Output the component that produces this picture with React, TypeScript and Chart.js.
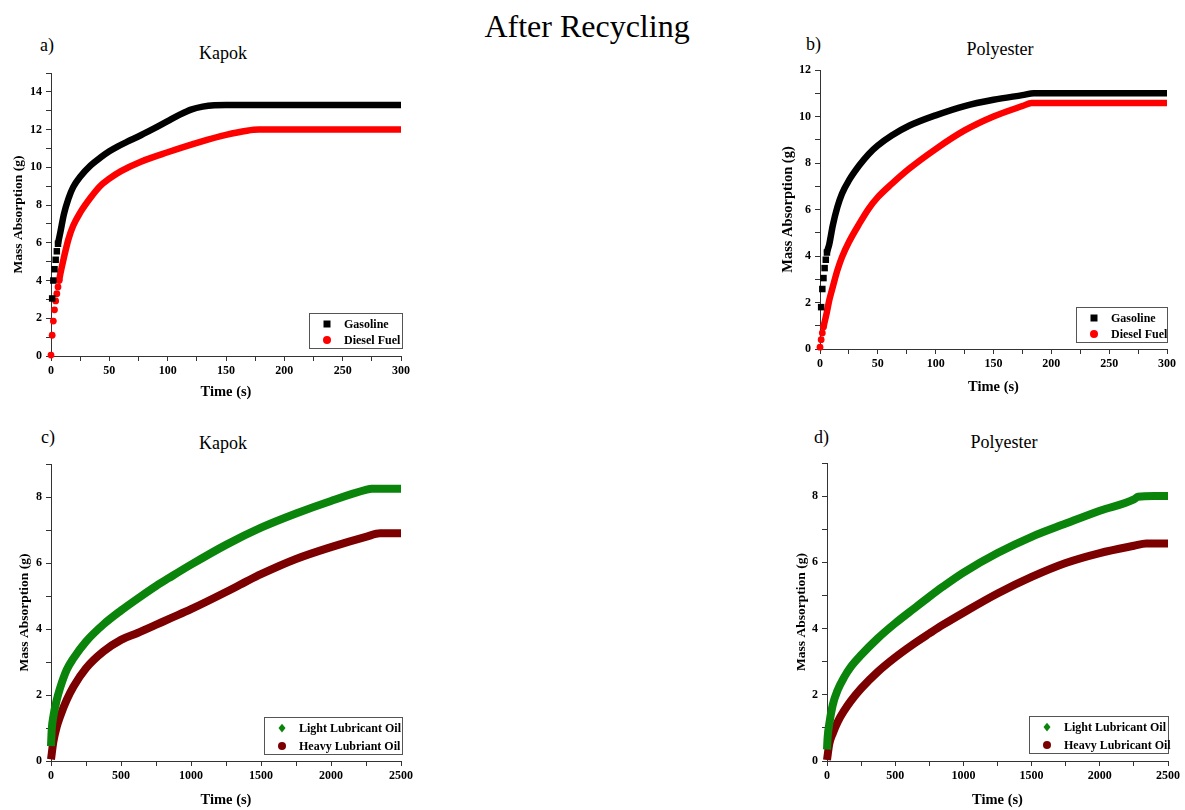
import React, { useEffect, useRef } from 'react';
import { Chart, registerables } from 'chart.js';

Chart.register(...registerables);

const FONT = "'Times New Roman', 'Liberation Serif', serif";

// ---------- DATA ----------
const MAIN_TITLE = 'After Recycling';
const PANEL_LETTERS = ['a)', 'b)', 'c)', 'd)'];
const PANEL_TITLES = ['Kapok', 'Polyester', 'Kapok', 'Polyester'];
const X_TITLE = 'Time (s)';
const Y_TITLE = 'Mass Absorption (g)';
const FUEL_LABELS = ['Gasoline', 'Diesel Fuel'];
const OIL_LABELS_KAPOK = ['Light Lubricant Oil', 'Heavy Lubriant Oil'];
const OIL_LABELS_POLY = ['Light Lubricant Oil', 'Heavy Lubricant Oil'];

// a) Kapok – fuels
const kapokGasolineT = [1, 2, 3, 4, 5, 6, 8, 11, 15, 19, 25, 34, 42, 50, 57, 65, 77, 88, 100, 110, 120, 130, 140, 150, 200, 250, 300];
const kapokGasolineY = [3.05, 4.0, 4.6, 5.1, 5.55, 5.95, 6.55, 7.5, 8.35, 8.95, 9.5, 10.1, 10.5, 10.85, 11.1, 11.35, 11.7, 12.05, 12.45, 12.78, 13.06, 13.22, 13.29, 13.3, 13.3, 13.3, 13.3];
const kapokDieselT = [0, 1, 2, 3, 4, 5, 6, 7, 8, 11, 15, 19, 25, 34, 42, 50, 60, 77, 100, 128, 150, 168, 178, 200, 250, 300];
const kapokDieselY = [0.05, 1.1, 1.85, 2.45, 2.92, 3.3, 3.66, 4.0, 4.35, 5.2, 6.2, 6.9, 7.6, 8.4, 9.0, 9.4, 9.8, 10.3, 10.8, 11.35, 11.72, 11.94, 12.0, 12.0, 12.0, 12.0];

// b) Polyester – fuels
const polyGasolineT = [1, 2, 3, 4, 5, 6, 8, 11, 15, 19, 25, 34, 42, 50, 62, 77, 100, 125, 150, 175, 185, 200, 250, 300];
const polyGasolineY = [1.8, 2.58, 3.05, 3.48, 3.84, 4.15, 4.5, 5.3, 6.1, 6.68, 7.25, 7.9, 8.38, 8.75, 9.18, 9.6, 10.05, 10.45, 10.72, 10.92, 11.0, 11.0, 11.0, 11.0];
const polyDieselT = [0, 1, 2, 3, 4, 6, 8, 11, 15, 19, 25, 34, 42, 50, 62, 77, 100, 125, 150, 175, 183, 200, 250, 300];
const polyDieselY = [0.08, 0.4, 0.69, 0.95, 1.16, 1.6, 2.1, 2.66, 3.38, 3.95, 4.6, 5.39, 6.03, 6.53, 7.1, 7.75, 8.6, 9.4, 10.0, 10.45, 10.58, 10.58, 10.58, 10.58];

// c) Kapok – lubricant oils
const kapokLightT = [0, 5, 17, 41, 64, 112, 160, 250, 375, 500, 638, 752, 840, 1000, 1250, 1500, 1750, 2000, 2255, 2290, 2400, 2500];
const kapokLightY = [0.45, 0.94, 1.35, 1.85, 2.2, 2.76, 3.11, 3.62, 4.14, 4.56, 4.98, 5.31, 5.54, 5.95, 6.55, 7.07, 7.5, 7.88, 8.22, 8.25, 8.25, 8.25];
const kapokHeavyT = [0, 17, 41, 64, 112, 160, 250, 375, 500, 614, 752, 840, 1000, 1250, 1400, 1500, 1750, 2000, 2255, 2350, 2400, 2500];
const kapokHeavyY = [0.05, 0.59, 1.04, 1.34, 1.85, 2.25, 2.81, 3.32, 3.67, 3.87, 4.13, 4.3, 4.6, 5.12, 5.45, 5.66, 6.12, 6.48, 6.8, 6.9, 6.9, 6.9];

// d) Polyester – lubricant oils
const polyLightT = [0, 5, 17, 42, 78, 127, 176, 250, 371, 500, 640, 750, 848, 1000, 1250, 1500, 1750, 2000, 2250, 2280, 2400, 2500];
const polyLightY = [0.35, 0.73, 1.13, 1.69, 2.14, 2.54, 2.85, 3.2, 3.7, 4.16, 4.61, 4.96, 5.26, 5.69, 6.28, 6.77, 7.17, 7.56, 7.9, 7.98, 8.0, 8.0];
const polyHeavyT = [0, 17, 42, 78, 127, 176, 250, 371, 500, 640, 750, 848, 1000, 1250, 1500, 1750, 2000, 2250, 2340, 2400, 2500];
const polyHeavyY = [0.03, 0.52, 0.83, 1.18, 1.53, 1.82, 2.19, 2.69, 3.13, 3.55, 3.85, 4.11, 4.48, 5.06, 5.56, 5.98, 6.28, 6.5, 6.57, 6.57, 6.57];

// ---------- STYLE / LAYOUT ----------
type SeriesStyle = { color: string; pointStyle: string; radius: number; width: number; cut: number };

type PanelCfg = {
  area: { l: number; r: number; t: number; b: number };
  yTitleX: number;
  xTitleY: number;
  yTitleSize: number;
  xTitleSize: number;
  xMax: number; xStep: number; xLabelStep: number;
  yMax: number; yStep: number; yLabelStep: number;
  legend: { w: number; h: number; dx: number; dy: number; gap: number };
  series: { label: string; t: number[]; y: number[]; style: SeriesStyle }[];
};

const BLACK: SeriesStyle = { color: '#000000', pointStyle: 'rect', radius: 4.6, width: 6.5, cut: 6 };
const RED: SeriesStyle = { color: '#ff0000', pointStyle: 'circle', radius: 3.4, width: 6.5, cut: 7 };
const BLACK_B: SeriesStyle = { ...BLACK, cut: 6 };
const RED_B: SeriesStyle = { ...RED, cut: 3 };
const GREEN: SeriesStyle = { color: '#0a840a', pointStyle: 'rectRot', radius: 0, width: 8, cut: -1 };
const MAROON: SeriesStyle = { color: '#7d0000', pointStyle: 'circle', radius: 0, width: 8, cut: -1 };

const PANELS: PanelCfg[] = [
  {
    area: { l: 51, r: 401, t: 73, b: 356 },
    yTitleX: 18.5, xTitleY: 392, yTitleSize: 13.5, xTitleSize: 14.5,
    xMax: 300, xStep: 25, xLabelStep: 50, yMax: 15, yStep: 1, yLabelStep: 2,
    legend: { w: 93, h: 35, dx: 1, dy: 8, gap: 16 },
    series: [
      { label: FUEL_LABELS[0], t: kapokGasolineT, y: kapokGasolineY, style: BLACK },
      { label: FUEL_LABELS[1], t: kapokDieselT, y: kapokDieselY, style: RED },
    ],
  },
  {
    area: { l: 820, r: 1167, t: 70, b: 349 },
    yTitleX: 788.5, xTitleY: 387, yTitleSize: 14.5, xTitleSize: 14.5,
    xMax: 300, xStep: 25, xLabelStep: 50, yMax: 12, yStep: 1, yLabelStep: 2,
    legend: { w: 91, h: 35, dx: 0, dy: 7, gap: 16 },
    series: [
      { label: FUEL_LABELS[0], t: polyGasolineT, y: polyGasolineY, style: BLACK_B },
      { label: FUEL_LABELS[1], t: polyDieselT, y: polyDieselY, style: RED_B },
    ],
  },
  {
    area: { l: 51, r: 401, t: 464, b: 761 },
    yTitleX: 25, xTitleY: 800, yTitleSize: 13.5, xTitleSize: 14.5,
    xMax: 2500, xStep: 250, xLabelStep: 500, yMax: 9, yStep: 1, yLabelStep: 2,
    legend: { w: 138, h: 37, dx: 1, dy: 7, gap: 18 },
    series: [
      { label: OIL_LABELS_KAPOK[0], t: kapokLightT, y: kapokLightY, style: GREEN },
      { label: OIL_LABELS_KAPOK[1], t: kapokHeavyT, y: kapokHeavyY, style: MAROON },
    ],
  },
  {
    area: { l: 827, r: 1168, t: 463, b: 761 },
    yTitleX: 801.5, xTitleY: 800, yTitleSize: 13.5, xTitleSize: 14.5,
    xMax: 2500, xStep: 250, xLabelStep: 500, yMax: 9, yStep: 1, yLabelStep: 2,
    legend: { w: 139, h: 37, dx: 0, dy: 8, gap: 18 },
    series: [
      { label: OIL_LABELS_POLY[0], t: polyLightT, y: polyLightY, style: GREEN },
      { label: OIL_LABELS_POLY[1], t: polyHeavyT, y: polyHeavyY, style: MAROON },
    ],
  },
];

const TEXTS = [
  { text: PANEL_LETTERS[0], x: 47, y: 45 },
  { text: PANEL_TITLES[0], x: 223, y: 52.5 },
  { text: PANEL_LETTERS[1], x: 813.5, y: 44 },
  { text: PANEL_TITLES[1], x: 1000, y: 49 },
  { text: PANEL_LETTERS[2], x: 48, y: 437 },
  { text: PANEL_TITLES[2], x: 223, y: 443 },
  { text: PANEL_LETTERS[3], x: 821.5, y: 436.5 },
  { text: PANEL_TITLES[3], x: 1004, y: 441.5 },
];

function drawMarker(ctx: CanvasRenderingContext2D, style: string, x: number, y: number, r: number) {
  ctx.beginPath();
  if (style === 'rect') {
    ctx.rect(x - r, y - r, 2 * r, 2 * r);
  } else if (style === 'rectRot') {
    ctx.moveTo(x, y - r * 1.25);
    ctx.lineTo(x + r, y);
    ctx.lineTo(x, y + r * 1.25);
    ctx.lineTo(x - r, y);
    ctx.closePath();
  } else {
    ctx.arc(x, y, r, 0, Math.PI * 2);
  }
  ctx.fill();
}

const boxLegend = {
  id: 'boxLegend',
  afterDraw(chart: any, _args: any, opts: any) {
    const { ctx, chartArea } = chart;
    const { w, h, dx, dy, gap, styles } = opts;
    const right = Math.round(chartArea.right + dx);
    const bottom = Math.round(chartArea.bottom - dy);
    const left = right - w;
    const top = bottom - h;
    ctx.save();
    ctx.fillStyle = '#ffffff';
    ctx.fillRect(left, top, w, h);
    ctx.strokeStyle = '#555555';
    ctx.lineWidth = 1;
    ctx.strokeRect(left + 0.5, top + 0.5, w, h);
    ctx.font = `bold 12px ${FONT}`;
    ctx.textBaseline = 'middle';
    ctx.textAlign = 'left';
    chart.data.datasets.forEach((ds: any, i: number) => {
      const st: SeriesStyle = styles[i];
      const cy = top + h / 2 + (i === 0 ? -gap / 2 : gap / 2) + 1.5;
      ctx.fillStyle = st.color;
      drawMarker(ctx, st.pointStyle, left + 18, cy, st.pointStyle === 'circle' ? 4 : 3.5);
      ctx.fillStyle = '#000000';
      ctx.fillText(ds.label, left + 35, cy + 0.5);
    });
    ctx.restore();
  },
};

function Panel({ cfg }: { cfg: PanelCfg }) {
  const ref = useRef<HTMLCanvasElement | null>(null);
  const lhY = cfg.yTitleSize * 1.2;
  const lhX = cfg.xTitleSize * 1.2;
  const cLeft = Math.round(cfg.yTitleX - lhY / 2 - 2);
  const cTop = Math.round(cfg.area.t - 16);
  const cRight = Math.min(1185, Math.round(cfg.area.r + 16));
  const cBottom = Math.round(cfg.xTitleY + lhX / 2 + 2);
  const W = cRight - cLeft;
  const H = cBottom - cTop;
  const padLeft = cfg.yTitleX - lhY / 2 - cLeft;
  const padTop = cfg.area.t - cTop;
  const padRight = cRight - cfg.area.r;
  const padBottom = cBottom - (cfg.xTitleY + lhX / 2);

  useEffect(() => {
    if (!ref.current) return;
    const yAxisWidth = cfg.area.l - cLeft - padLeft;
    const xAxisHeight = cfg.xTitleY + lhX / 2 - cfg.area.b;
    const tickFont = { family: FONT, size: 12, weight: 'bold' as const };
    const chart = new Chart(ref.current, {
      type: 'scatter',
      data: {
        datasets: cfg.series.map((s) => ({
          label: s.label,
          data: s.t.map((t, i) => ({ x: t, y: s.y[i] })),
          showLine: true,
          borderColor: s.style.color,
          backgroundColor: s.style.color,
          borderWidth: s.style.width,
          borderCapStyle: 'butt' as const,
          borderJoinStyle: 'round' as const,
          cubicInterpolationMode: 'monotone' as const,
          pointStyle: s.style.pointStyle as any,
          pointRadius: (c: any) => (c.raw && c.raw.x <= s.style.cut ? s.style.radius : 0),
          pointBorderWidth: 0,
          pointHoverRadius: 0,
          clip: false as any,
          segment: {
            borderColor: (c: any) => (c.p1.parsed.x <= s.style.cut ? 'rgba(0,0,0,0)' : s.style.color),
          },
        })),
      },
      options: {
        responsive: false,
        animation: false,
        events: [],
        layout: { padding: { left: padLeft, top: padTop, right: padRight, bottom: padBottom } },
        plugins: {
          legend: { display: false },
          tooltip: { enabled: false },
          boxLegend: { ...cfg.legend, styles: cfg.series.map((s) => s.style) },
        } as any,
        scales: {
          x: {
            type: 'linear',
            position: 'bottom',
            min: 0,
            max: cfg.xMax,
            afterFit: (scale: any) => { scale.height = xAxisHeight; },
            border: { display: true, color: '#333333', width: 1 },
            grid: { display: true, drawOnChartArea: false, drawTicks: true, tickLength: 5, color: '#333333' },
            ticks: {
              stepSize: cfg.xStep,
              autoSkip: false,
              maxRotation: 0,
              padding: 3,
              color: '#000000',
              font: tickFont,
              callback: (v: any) => (Number(v) % cfg.xLabelStep === 0 ? String(v) : ''),
            },
            title: {
              display: true,
              text: X_TITLE,
              color: '#000000',
              padding: 0,
              font: { family: FONT, size: cfg.xTitleSize, weight: 'bold' },
            },
          },
          y: {
            type: 'linear',
            position: 'left',
            min: 0,
            max: cfg.yMax,
            afterFit: (scale: any) => { scale.width = yAxisWidth; },
            border: { display: true, color: '#333333', width: 1 },
            grid: { display: true, drawOnChartArea: false, drawTicks: true, tickLength: 5, color: '#333333' },
            ticks: {
              stepSize: cfg.yStep,
              autoSkip: false,
              padding: 4,
              color: '#000000',
              font: tickFont,
              callback: (v: any) => (Number(v) % cfg.yLabelStep === 0 ? String(v) : ''),
            },
            title: {
              display: true,
              text: Y_TITLE,
              color: '#000000',
              padding: 0,
              font: { family: FONT, size: cfg.yTitleSize, weight: 'bold' },
            },
          },
        },
      },
      plugins: [boxLegend],
    });
    return () => chart.destroy();
  }, []);

  return (
    <canvas
      ref={ref}
      width={W}
      height={H}
      style={{ position: 'absolute', left: cLeft, top: cTop, width: W, height: H }}
    />
  );
}

export default function App() {
  return (
    <div style={{ position: 'absolute', left: 0, top: 0, width: 1185, height: 810, background: '#ffffff', overflow: 'hidden' }}>
      <div
        style={{
          position: 'absolute', left: 587, top: 26, transform: 'translate(-50%, -50%)',
          fontFamily: FONT, fontSize: 32, lineHeight: 1, whiteSpace: 'nowrap', color: '#000',
        }}
      >
        {MAIN_TITLE}
      </div>
      {TEXTS.map((t, i) => (
        <div
          key={i}
          style={{
            position: 'absolute', left: t.x, top: t.y, transform: 'translate(-50%, -50%)',
            fontFamily: FONT, fontSize: 18, lineHeight: 1, whiteSpace: 'nowrap', color: '#000',
          }}
        >
          {t.text}
        </div>
      ))}
      {PANELS.map((p, i) => (
        <Panel key={i} cfg={p} />
      ))}
    </div>
  );
}
